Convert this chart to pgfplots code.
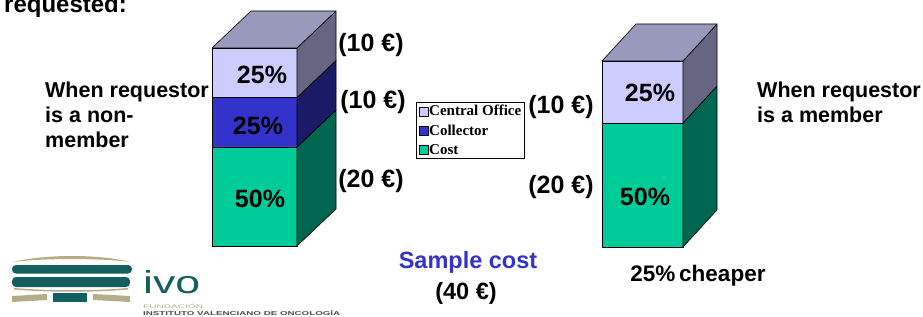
\documentclass[border=0pt]{standalone}
\usepackage{pgfplots}
\pgfplotsset{compat=1.18}
\usepackage{fontspec}
\setmainfont{Liberation Sans}
\newfontfamily\serif{Liberation Serif}
\definecolor{coF}{HTML}{CCCCFF}
\definecolor{coS}{HTML}{666680}
\definecolor{colF}{HTML}{3333CC}
\definecolor{colS}{HTML}{1A1A66}
\definecolor{cF}{HTML}{00CC99}
\definecolor{cS}{HTML}{006650}
\definecolor{topF}{HTML}{9999BB}
\definecolor{ivoteal}{HTML}{135E5E}
\definecolor{olv}{HTML}{B5AD86}
\definecolor{sblue}{HTML}{3333CC}
\newcommand\fs[1]{\fontsize{#1}{#1}\selectfont\bfseries}
\begin{document}
\begin{tikzpicture}
\path[use as bounding box] (0,0) rectangle (923pt,316pt);
% ---------- bar 1 : requestor is a non-member (40 EUR) ----------
\begin{axis}[at={(0,0)}, anchor=south west, scale only axis, hide axis,
  x=1pt, y=4.95pt, xmin=0, xmax=923, ymin=-14.1414, ymax=49.697,
  no markers,
  legend cell align=left,
  legend style={at={(0.4507,0.6772)}, anchor=north west, draw=black,
    line width=0.6pt, font=\serif\bfseries\fontsize{15}{16}\selectfont,
    inner xsep=2.5pt, inner ysep=2pt, row sep=5.5pt,
    nodes={inner sep=1pt}},
  legend image code/.code={\draw[#1,draw=black,line width=0.4pt] (0pt,-4.5pt) rectangle (9pt,4.5pt);},
  every axis plot/.append style={draw=black, line width=0.6pt, line join=round},
]
% front faces (stacked: cost 20, collector 10, central office 10)
\addplot[fill=coF] coordinates {(212,30) (297,30) (297,40) (212,40) (212,30)};
\addlegendentry{Central Office}
\addplot[fill=colF] coordinates {(212,20) (297,20) (297,30) (212,30) (212,20)};
\addlegendentry{Collector}
\addplot[fill=cF] coordinates {(212,0) (297,0) (297,20) (212,20) (212,0)};
\addlegendentry{Cost}
% side faces
\addplot[fill=cS, forget plot] coordinates {(297,0) (336,7.475) (336,27.475) (297,20) (297,0)};
\addplot[fill=colS, forget plot] coordinates {(297,20) (336,27.475) (336,37.475) (297,30) (297,20)};
\addplot[fill=coS, forget plot] coordinates {(297,30) (336,37.475) (336,47.475) (297,40) (297,30)};
% top face
\addplot[fill=topF, forget plot] coordinates {(212,40) (297,40) (336,47.475) (251,47.475) (212,40)};
\end{axis}
% ---------- bar 2 : requestor is a member (30 EUR) ----------
\begin{axis}[at={(0,0)}, anchor=south west, scale only axis, hide axis,
  x=1pt, y=6.2pt, xmin=0, xmax=923, ymin=-11.129, ymax=39.839,
  no markers,
  every axis plot/.append style={draw=black, line width=0.6pt, line join=round},
]
\addplot[fill=cF] coordinates {(602,0) (683,0) (683,20) (602,20) (602,0)};
\addplot[fill=coF] coordinates {(602,20) (683,20) (683,30) (602,30) (602,20)};
\addplot[fill=cS] coordinates {(683,0) (717,5.968) (717,25.968) (683,20) (683,0)};
\addplot[fill=coS] coordinates {(683,20) (717,25.968) (717,35.968) (683,30) (683,20)};
\addplot[fill=topF] coordinates {(602,30) (683,30) (717,35.968) (636,35.968) (602,30)};
\end{axis}
% ---------- texts (pixel coordinates, y downward) ----------
\begin{scope}[x=1pt, y=-1pt, yshift=316pt]
\node[anchor=base west, inner sep=0] at (4,13) {\fs{24}requested:};
\node[anchor=base west, inner sep=0, align=left, font=\fs{21.5}] at (45,148)
  {When requestor\\[3.5pt]is a non-\\[3.5pt]member};
\node[anchor=base west, inner sep=0, align=left, font=\fs{21.5}] at (757,123)
  {When requestor\\[3.5pt]is a member};
% percentages
\node at (262,75) {\fs{25}25\%};
\node at (258,126) {\fs{25}25\%};
\node at (260,199) {\fs{25}50\%};
\node at (650,93) {\fs{25}25\%};
\node at (645,197) {\fs{25}50\%};
% euro amounts
\node at (371,45) {\fs{25}(10 €)};
\node at (373,102) {\fs{25}(10 €)};
\node at (371,181) {\fs{25}(20 €)};
\node at (561,107) {\fs{25}(10 €)};
\node at (561,187) {\fs{25}(20 €)};
\node[text=sblue] at (468,262) {\fs{23.5}Sample cost};
\node at (466,293) {\fs{23.5}(40 €)};
\node at (698,276) {\fs{22.5}25\%\,cheaper};
% logo
\fill[olv] (13,262) .. controls (45,254) and (100,254) .. (130,262) .. controls (100,258) and (45,258) .. cycle;
\fill[ivoteal, rounded corners=4pt] (12,265) rectangle (132,273.5);
\fill[ivoteal, rounded corners=4pt] (12,277) rectangle (130,287);
\fill[olv] (14,288) .. controls (50,291) and (95,291) .. (128,288) -- (128,289.5) .. controls (95,292.5) and (50,292.5) .. (14,289.5) -- cycle;
\fill[olv] (12,296) -- (47,294) -- (47,300) -- (12,302) -- cycle;
\fill[ivoteal] (53,293) rectangle (87,302);
\fill[olv] (93,294) -- (130,296) -- (130,302) -- (93,300) -- cycle;
\node[anchor=base west, inner sep=0, text=ivoteal] at (143,293) {\resizebox{57pt}{23pt}{\fontsize{30}{30}\selectfont ivo}};
\node[anchor=base west, inner sep=0, text=olv] at (143,308) {\resizebox{60pt}{4.5pt}{\fontsize{6}{6}\selectfont FUNDACIÓN}};
\node[anchor=base west, inner sep=0, text=black!70] at (143,315) {\resizebox{197pt}{5pt}{\fontsize{6}{6}\selectfont\bfseries INSTITUTO VALENCIANO DE ONCOLOGÍA}};
\end{scope}
\end{tikzpicture}
\end{document}
